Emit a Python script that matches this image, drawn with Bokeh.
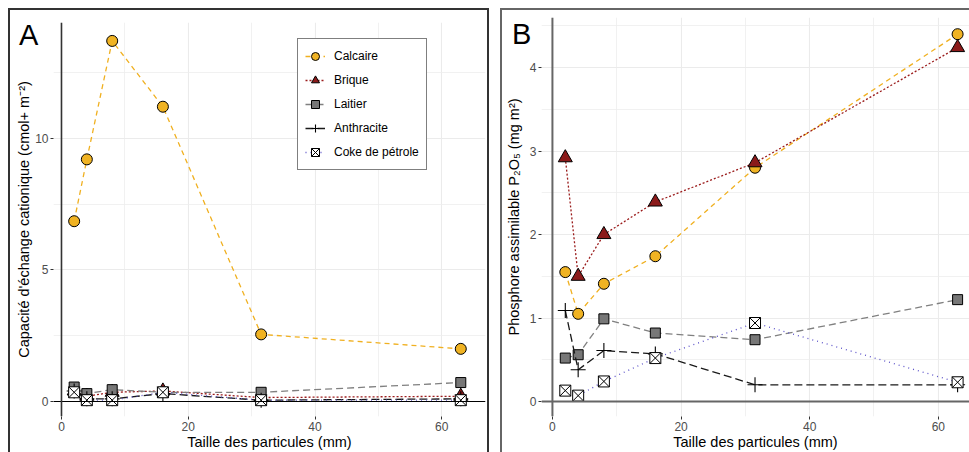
from bokeh.plotting import figure
from bokeh.models import (Range1d, FixedTicker, Span, Legend, LegendItem, Spacer,
                          Div, GridBox)
from bokeh.layouts import row, column
from bokeh.embed import file_html
from bokeh.resources import INLINE

# ---- data ----
taille = [2, 4, 8, 16, 31.5, 63]
series = ["Calcaire", "Brique", "Laitier", "Anthracite", "Coke de pétrole"]

cec_calcaire = [6.85, 9.2, 13.7, 11.2, 2.55, 2.0]
cec_brique = [0.40, 0.20, 0.35, 0.40, 0.15, 0.20]
cec_laitier = [0.55, 0.30, 0.45, 0.35, 0.35, 0.72]
cec_anthracite = [0.40, 0.10, 0.10, 0.30, 0.05, 0.10]
cec_coke = [0.35, 0.05, 0.05, 0.35, 0.05, 0.05]

p_calcaire = [1.55, 1.05, 1.41, 1.74, 2.80, 4.40]
p_brique = [2.92, 1.50, 2.00, 2.39, 2.86, 4.24]
p_laitier = [0.52, 0.56, 0.99, 0.82, 0.74, 1.22]
p_anthracite = [1.09, 0.38, 0.61, 0.57, 0.20, 0.20]
p_coke = [0.13, 0.07, 0.24, 0.52, 0.94, 0.23]

x_ticks = [0, 20, 40, 60]
x_minor = [10, 30, 50]
cec_ticks = [0, 5, 10]
cec_minor = [2.5, 7.5, 12.5]
p_ticks = [0, 1, 2, 3, 4]
p_minor = [0.5, 1.5, 2.5, 3.5, 4.5]

# ---- styles ----
STY = {
    "Calcaire": dict(color="#F0B020", dash="5 4", marker="circle", size=11, fill="#F0B323", lc="black"),
    "Brique": dict(color="#9B1C1C", dash="2 2", marker="triangle", size=14, fill="#8B1A1A", lc="black"),
    "Laitier": dict(color="#808080", dash="7 4", marker="square", size=10, fill="#777777", lc="black"),
    "Anthracite": dict(color="#1a1a1a", dash="8 4", marker="cross", size=15, fill=None, lc="black"),
    "Coke de pétrole": dict(color="#5A50C8", dash="1 4", marker="square_x", size=11, fill="white", lc="black"),
}

FONT = "Liberation Sans"


def make_panel(width, height, xr, yr, yt, ym, ylabel, data,
               min_left, min_right, min_top, line_col, line_w, vcol, vw, label_standoff):
    p = figure(width=width, height=height, output_backend="svg", toolbar_location=None,
               x_range=Range1d(*xr), y_range=Range1d(*yr),
               min_border_left=min_left, min_border_right=min_right,
               min_border_top=min_top, min_border_bottom=0,
               background_fill_color="white", border_fill_color="white")
    p.outline_line_color = None

    for ax, ticks, minor in ((p.xaxis, x_ticks, x_minor), (p.yaxis, yt, ym)):
        ax.ticker = FixedTicker(ticks=ticks, minor_ticks=minor)
        ax.axis_line_color = None
        ax.major_tick_line_color = "#333333"
        ax.major_tick_out = 3
        ax.major_tick_in = 0
        ax.minor_tick_line_color = None
        ax.major_label_text_font = FONT
        ax.major_label_text_font_size = "12px"
        ax.major_label_text_color = "#4D4D4D"
        ax.major_label_standoff = 1
        ax.axis_label_text_font = FONT
        ax.axis_label_text_font_size = "14.5px"
        ax.axis_label_text_font_style = "normal"
        ax.axis_label_text_color = "black"
    p.xaxis.axis_label = "Taille des particules (mm)"
    p.xaxis.axis_label_standoff = 0
    p.yaxis.axis_label = ylabel
    p.yaxis.axis_label_standoff = label_standoff

    for g in (p.xgrid, p.ygrid):
        g.grid_line_color = "#EBEBEB"
        g.grid_line_width = 1.1
        g.minor_grid_line_color = "#EEEEEE"
        g.minor_grid_line_width = 0.8

    p.add_layout(Span(location=0, dimension="width", line_color=line_col, line_width=line_w))
    p.add_layout(Span(location=0, dimension="height", line_color=vcol, line_width=vw))

    items = []
    for name, ys in zip(series, data):
        s = STY[name]
        lr = p.line(taille, ys, line_color=s["color"], line_dash=s["dash"], line_width=1.3)
        if s["marker"] == "cross":
            mr = p.scatter(taille, ys, marker="cross", size=s["size"], line_color="black", line_width=1.1)
        else:
            mr = p.scatter(taille, ys, marker=s["marker"], size=s["size"], fill_color=s["fill"],
                           line_color=s["lc"], line_width=1)
        items.append(LegendItem(label=name, renderers=[lr, mr]))
    return p, items


def letter(txt, top, left):
    return Div(text=txt, width=22, height=30, margin=(top, 0, 0, left),
               styles={"font-family": FONT, "font-size": "29px", "color": "black",
                       "line-height": "1", "position": "relative", "z-index": "10"})


# ---- panel A ----
pA, itemsA = make_panel(
    477, 442, (-1.26, 66.9), (-0.57, 14.4), cec_ticks, cec_minor,
    "Capacité d'échange cationique (cmol+ m⁻²)",
    [cec_calcaire, cec_brique, cec_laitier, cec_anthracite, cec_coke],
    43, 2, 12, "black", 1.2, "#333333", 1.6, 0)

legA = Legend(items=itemsA, location=(244, 246))
legA.label_text_font = FONT
legA.label_text_font_size = "12px"
legA.label_text_color = "black"
legA.glyph_width = 20
legA.glyph_height = 20
legA.label_height = 20
legA.spacing = 4
legA.padding = 7
legA.label_standoff = 9
legA.margin = 0
legA.border_line_color = "black"
legA.border_line_width = 1
legA.background_fill_color = "white"
legA.background_fill_alpha = 1
pA.add_layout(legA)

gridA = GridBox(children=[(pA, 0, 0), (letter("A", 11, 9), 0, 0)])

# ---- panel B ----
pB, _ = make_panel(
    467, 442, (-1.7, 64.85), (-0.18, 4.6), p_ticks, p_minor,
    "Phosphore assimilable P₂O₅ (mg m²)",
    [p_calcaire, p_brique, p_laitier, p_anthracite, p_coke],
    39, 0, 7, "#666666", 2, "#666666", 2, 5)

gridB = GridBox(children=[(pB, 0, 0), (letter("B", 10, 10), 0, 0)])


def bar(w, h, col):
    return Spacer(width=w, height=h, styles={"background-color": col})


blockA = row(Spacer(width=8, height=444), bar(2, 444, "#333333"),
             column(bar(477, 2, "#333333"), gridA), bar(2, 444, "#333333"))
blockB = row(bar(2, 444, "#666666"), column(bar(467, 2, "#666666"), gridB))

layout = column(Spacer(width=969, height=8), row(blockA, Spacer(width=11, height=444), blockB))

open("out.html", "w").write(file_html(layout, INLINE))
